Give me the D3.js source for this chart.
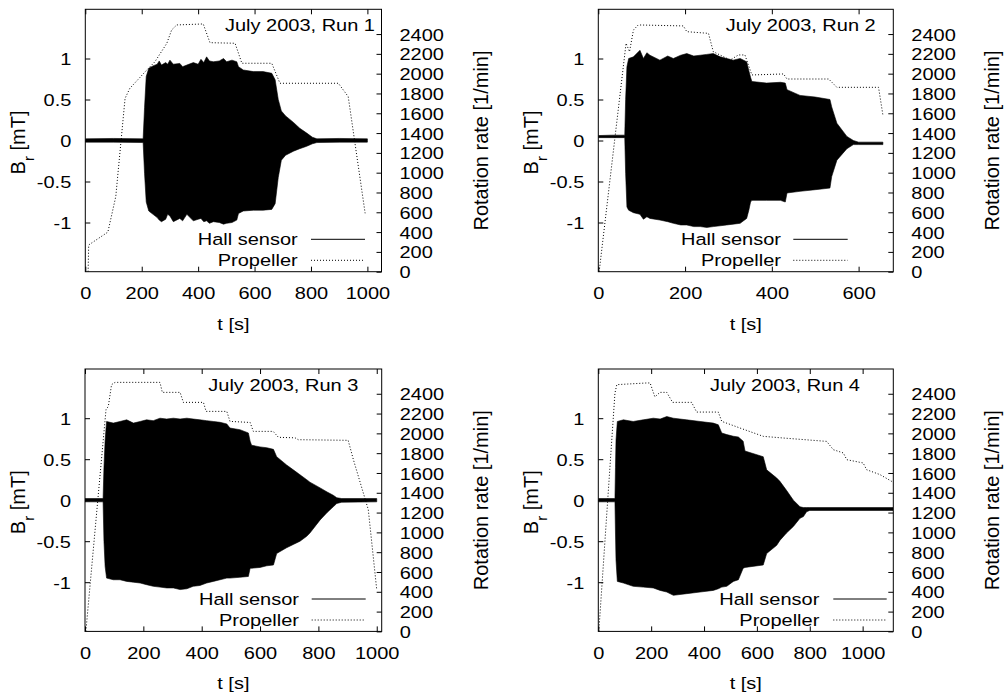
<!DOCTYPE html>
<html>
<head>
<meta charset="utf-8">
<script src="https://cdn.jsdelivr.net/npm/d3@7"></script>
<style>
  body { margin: 0; background: #fff; }
  svg { display: block; }
  text { font-family: "Liberation Sans", Arial, Helvetica, sans-serif; font-size: 20px; fill: #000; }
</style>
</head>
<body>
<svg id="chart" width="1004" height="694"></svg>
<script>
// ---------------- data ----------------
const titles = ["July 2003, Run 1", "July 2003, Run 2", "July 2003, Run 3", "July 2003, Run 4"];
const legendLabels = ["Hall sensor", "Propeller"];
const xAxisTitle = "t [s]";
const rightAxisTitle = "Rotation rate [1/min]";

const leftTicks = [-1, -0.5, 0, 0.5, 1];
const leftTickLabels = ["-1", "-0.5", "0", "0.5", "1"];
const rightTicks = [0, 200, 400, 600, 800, 1000, 1200, 1400, 1600, 1800, 2000, 2200, 2400];
const xTicksRun1 = [0, 200, 400, 600, 800, 1000];
const xTicksRun2 = [0, 200, 400, 600];
const xTicksRun3 = [0, 200, 400, 600, 800, 1000];
const xTicksRun4 = [0, 200, 400, 600, 800, 1000];
const xMax = [1050, 680, 1017, 1116];

// Run 1 – Hall sensor envelope (B_r in mT)
const run1HallT     = [0, 100, 205, 210, 216, 225, 240, 255, 262, 270, 285, 292, 300, 312, 335, 345, 360, 383, 400, 410, 420, 430, 440, 454, 475, 490, 501, 520, 537, 543, 560, 596, 630, 661, 673, 684, 695, 710, 738, 760, 785, 805, 821, 900, 1000];
const run1HallUpper = [0.02, 0.025, 0.02, 0.4, 0.78, 0.88, 0.91, 0.93, 0.97, 0.92, 0.95, 0.93, 0.98, 0.93, 0.94, 0.9, 0.92, 0.95, 0.93, 0.99, 0.95, 1.02, 0.97, 0.96, 0.97, 1.0, 0.96, 0.98, 0.96, 0.9, 0.86, 0.84, 0.84, 0.82, 0.74, 0.5, 0.36, 0.3, 0.22, 0.15, 0.09, 0.04, 0.02, 0.025, 0.02];
const run1HallLower = [-0.02, -0.02, -0.025, -0.4, -0.75, -0.86, -0.9, -0.94, -0.97, -0.99, -0.96, -0.9, -0.92, -0.99, -0.95, -0.98, -0.9, -0.98, -0.96, -0.95, -0.99, -0.98, -1.01, -0.99, -1.0, -1.02, -1.01, -1.0, -0.97, -0.89, -0.86, -0.85, -0.85, -0.84, -0.77, -0.45, -0.24, -0.18, -0.13, -0.1, -0.07, -0.04, -0.025, -0.02, -0.02];
// Run 1 – propeller rotation rate (1/min)
const run1PropT   = [10, 12, 80, 108, 141, 158, 218, 247, 289, 306, 324, 418, 442, 531, 555, 661, 690, 897, 932, 992];
const run1PropRpm = [0, 270, 400, 758, 1751, 1852, 2037, 2121, 2307, 2441, 2492, 2502, 2313, 2307, 2105, 2105, 1903, 1903, 1768, 590];

// Run 2
const run2HallT     = [0, 30, 61, 63, 66, 70, 81, 96, 104, 112, 119, 142, 160, 173, 190, 204, 220, 235, 250, 265, 281, 296, 311, 327, 342, 347, 351, 354, 388, 420, 431, 435, 465, 500, 534, 538, 550, 573, 588, 600, 656];
const run2HallUpper = [0.06, 0.065, 0.065, 0.5, 0.9, 1.0, 1.02, 1.1, 1.0, 1.07, 1.04, 0.98, 1.03, 1.0, 1.04, 1.06, 1.03, 1.04, 1.05, 1.06, 1.02, 1.0, 0.98, 1.0, 0.96, 0.85, 0.77, 0.72, 0.7, 0.71, 0.7, 0.62, 0.55, 0.53, 0.5, 0.41, 0.21, 0.05, 0.0, -0.02, -0.02];
const run2HallLower = [0.035, 0.035, 0.035, -0.4, -0.81, -0.85, -0.88, -0.9, -0.96, -0.93, -0.95, -0.97, -0.99, -1.01, -1.03, -1.03, -1.05, -1.05, -1.06, -1.05, -1.04, -1.03, -1.02, -1.01, -0.95, -0.85, -0.75, -0.73, -0.73, -0.73, -0.75, -0.64, -0.62, -0.6, -0.58, -0.44, -0.24, -0.1, -0.05, -0.05, -0.05];
const run2PropT   = [2, 64, 72, 81, 92, 196, 204, 254, 265, 304, 323, 338, 354, 427, 435, 531, 550, 646, 656];
const run2PropRpm = [0, 2307, 2222, 2441, 2492, 2482, 2424, 2407, 2222, 2138, 2189, 2189, 1987, 1997, 1946, 1946, 1862, 1862, 1583];

// Run 3
const run3HallT     = [0, 62, 65, 69, 74, 97, 120, 143, 166, 189, 211, 234, 257, 280, 303, 326, 349, 371, 394, 417, 440, 463, 486, 497, 531, 560, 566, 571, 600, 623, 646, 657, 691, 714, 737, 760, 771, 806, 830, 851, 863, 880, 1000];
const run3HallUpper = [0.02, 0.02, 0.4, 0.73, 0.96, 0.94, 0.96, 0.98, 0.94, 0.96, 0.98, 0.97, 1.0, 0.99, 1.0, 0.99, 1.0, 0.99, 0.98, 0.97, 0.96, 0.95, 0.93, 0.88, 0.86, 0.82, 0.72, 0.67, 0.65, 0.64, 0.62, 0.53, 0.43, 0.37, 0.31, 0.25, 0.22, 0.15, 0.1, 0.06, 0.03, 0.02, 0.02];
const run3HallLower = [-0.02, -0.02, -0.5, -0.81, -0.95, -0.97, -0.97, -0.99, -1.0, -1.01, -1.03, -1.05, -1.06, -1.07, -1.07, -1.09, -1.08, -1.05, -1.04, -1.01, -0.99, -0.97, -0.95, -0.95, -0.94, -0.93, -0.83, -0.83, -0.82, -0.8, -0.79, -0.65, -0.58, -0.54, -0.5, -0.44, -0.4, -0.24, -0.15, -0.08, -0.04, -0.025, -0.02];
const run3PropT   = [3, 72, 80, 91, 103, 257, 265, 326, 337, 406, 415, 486, 497, 566, 577, 645, 663, 720, 731, 897, 902, 920, 971, 1000];
const run3PropRpm = [0, 2239, 2273, 2492, 2515, 2515, 2414, 2414, 2313, 2313, 2222, 2222, 2121, 2110, 2020, 2020, 1960, 1955, 1936, 1930, 1930, 1734, 1230, 421];

// Run 4
const run4HallT     = [0, 63, 65, 67, 72, 95, 132, 170, 208, 234, 259, 284, 334, 385, 435, 454, 467, 486, 511, 530, 548, 555, 624, 637, 675, 687, 712, 738, 763, 776, 788, 800, 1115];
const run4HallUpper = [0.02, 0.02, 0.4, 0.73, 0.96, 0.98, 0.96, 0.98, 1.0, 0.99, 1.02, 1.0, 0.98, 0.96, 0.94, 0.92, 0.82, 0.8, 0.78, 0.77, 0.72, 0.6, 0.53, 0.37, 0.27, 0.23, 0.12, 0.0, -0.08, -0.09, -0.09, -0.09, -0.09];
const run4HallLower = [-0.02, -0.02, -0.4, -0.73, -0.99, -1.01, -1.05, -1.06, -1.07, -1.1, -1.12, -1.16, -1.14, -1.12, -1.1, -1.08, -1.06, -1.05, -0.99, -0.97, -0.83, -0.82, -0.79, -0.65, -0.55, -0.49, -0.4, -0.32, -0.22, -0.2, -0.14, -0.125, -0.125];
const run4PropT   = [2, 63, 70, 183, 196, 214, 233, 259, 281, 353, 372, 454, 467, 536, 624, 700, 864, 889, 927, 940, 1002, 1015, 1066, 1110];
const run4PropRpm = [0, 2407, 2492, 2509, 2509, 2368, 2414, 2414, 2313, 2313, 2215, 2215, 2121, 2054, 1970, 1953, 1919, 1835, 1802, 1734, 1701, 1633, 1583, 1515];

// ---------------- layout ----------------
const layout = [
  { left: 85.3,  top: 9.3, width: 296.2, height: 262.4, titleRight: 375,   legText: 297.7, legX1: 311,   legX2: 365 },
  { left: 598.3, top: 9.3, width: 295.0, height: 262.4, titleRight: 875.7, legText: 781,   legX1: 793.3, legX2: 847.7 },
  { left: 85.0,  top: 369, width: 296.7, height: 262.4, titleRight: 358.3, legText: 299,   legX1: 311.7, legX2: 365.7 },
  { left: 598.3, top: 369, width: 295.0, height: 262.4, titleRight: 860,   legText: 819.3, legX1: 833.3, legX2: 886.7 }
];

const runs = [
  { hallT: run1HallT, up: run1HallUpper, lo: run1HallLower, propT: run1PropT, rpm: run1PropRpm, xticks: xTicksRun1 },
  { hallT: run2HallT, up: run2HallUpper, lo: run2HallLower, propT: run2PropT, rpm: run2PropRpm, xticks: xTicksRun2 },
  { hallT: run3HallT, up: run3HallUpper, lo: run3HallLower, propT: run3PropT, rpm: run3PropRpm, xticks: xTicksRun3 },
  { hallT: run4HallT, up: run4HallUpper, lo: run4HallLower, propT: run4PropT, rpm: run4PropRpm, xticks: xTicksRun4 }
];

const svg = d3.select("#chart");
const TICK = 5;
const DOT = "1,2";
const SQ = 0.87; // vertical squish of horizontal text, as in the reference

function squish(sel) {
  sel.each(function () {
    const t = d3.select(this);
    const X = +t.attr("x") || 0, Y = +t.attr("y") || 0;
    t.attr("x", 0).attr("y", 0).attr("transform", `translate(${X},${Y}) scale(1,${SQ})`);
  });
}

runs.forEach((run, i) => {
  const L = layout[i];
  const g = svg.append("g");
  const x = d3.scaleLinear().domain([0, xMax[i]]).range([L.left, L.left + L.width]);
  const y = d3.scaleLinear().domain([-1.6, 1.6]).range([L.top + L.height, L.top]);
  const y2 = d3.scaleLinear().domain([0, 2650]).range([L.top + L.height, L.top]);
  const right = L.left + L.width, bottom = L.top + L.height;

  const clipId = "clip" + i;
  g.append("clipPath").attr("id", clipId).append("rect")
    .attr("x", L.left).attr("y", L.top).attr("width", L.width).attr("height", L.height);

  // Hall sensor envelope
  const hall = run.hallT.map((t, k) => ({ t, up: run.up[k], lo: run.lo[k] }));
  g.append("path").datum(hall)
    .attr("clip-path", `url(#${clipId})`)
    .attr("d", d3.area().x(d => x(d.t)).y0(d => y(d.lo)).y1(d => y(d.up)))
    .attr("fill", "#000").attr("stroke", "#000").attr("stroke-width", 0.6);

  // Propeller
  const prop = run.propT.map((t, k) => ({ t, r: run.rpm[k] }));
  g.append("path").datum(prop)
    .attr("clip-path", `url(#${clipId})`)
    .attr("d", d3.line().x(d => x(d.t)).y(d => y2(d.r)))
    .attr("fill", "none").attr("stroke", "#000").attr("stroke-width", 1)
    .attr("stroke-dasharray", DOT);

  // Axes (ticks inward)
  const bottomAxis = d3.axisBottom(x).tickValues(run.xticks).tickSizeInner(-TICK).tickSizeOuter(0).tickFormat(d3.format("d"));
  const ax = g.append("g").attr("transform", `translate(0,${bottom})`).call(bottomAxis);
  const topAxis = d3.axisTop(x).tickValues(run.xticks).tickSizeInner(-TICK).tickSizeOuter(0).tickFormat("");
  const at = g.append("g").attr("transform", `translate(0,${L.top})`).call(topAxis);
  const leftAxis = d3.axisLeft(y).tickValues(leftTicks).tickSizeInner(-TICK).tickSizeOuter(0)
    .tickFormat((d, k) => leftTickLabels[k]).tickPadding(14);
  const al = g.append("g").attr("transform", `translate(${L.left},0)`).call(leftAxis);
  const rightAxis = d3.axisRight(y2).tickValues(rightTicks).tickSizeInner(-TICK).tickSizeOuter(0)
    .tickFormat(d3.format("d")).tickPadding(18);
  const ar = g.append("g").attr("transform", `translate(${right},0)`).call(rightAxis);

  [ax, at, al, ar].forEach(a => {
    a.select(".domain").remove();
    a.selectAll("line").attr("stroke", "#000").attr("stroke-width", 1);
    a.selectAll("text").attr("font-size", null).attr("font-family", null).attr("fill", "#000");
  });
  ax.selectAll("text").attr("dy", "0.35em").attr("y", 21.5);
  al.selectAll("text").attr("dy", "0.35em");
  ar.selectAll("text").attr("dy", "0.35em");
  squish(ax.selectAll("text"));
  squish(al.selectAll("text"));
  squish(ar.selectAll("text"));

  // border
  g.append("rect").attr("x", L.left).attr("y", L.top).attr("width", L.width).attr("height", L.height)
    .attr("fill", "none").attr("stroke", "#000").attr("stroke-width", 1);

  // title
  squish(g.append("text").attr("x", L.titleRight).attr("y", L.top + 15.5).attr("dy", "0.35em")
    .attr("text-anchor", "end").text(titles[i]));

  // legend
  const rows = [L.top + 230, L.top + 251];
  legendLabels.forEach((lab, k) => {
    squish(g.append("text").attr("x", L.legText).attr("y", rows[k]).attr("dy", "0.35em")
      .attr("text-anchor", "end").text(lab));
    const ln = g.append("line").attr("x1", L.legX1).attr("x2", L.legX2)
      .attr("y1", rows[k]).attr("y2", rows[k]).attr("stroke", "#000").attr("stroke-width", 1);
    if (k === 1) ln.attr("stroke-dasharray", DOT);
  });

  // axis titles
  const cy = L.top + L.height / 2;
  squish(g.append("text").attr("x", (L.left + right) / 2).attr("y", bottom + 52).attr("dy", "0.35em")
    .attr("text-anchor", "middle").text(xAxisTitle));
  const bl = g.append("text").attr("transform", `translate(${L.left - 60},${cy + 2}) rotate(-90)`)
    .attr("text-anchor", "middle");
  bl.append("tspan").text("B");
  bl.append("tspan").attr("baseline-shift", "sub").attr("font-size", "15px").text("r");
  bl.append("tspan").text(" [mT]");
  g.append("text").attr("transform", `translate(${right + 106},${cy}) rotate(-90)`)
    .attr("text-anchor", "middle").text(rightAxisTitle);
});
</script>
</body>
</html>
